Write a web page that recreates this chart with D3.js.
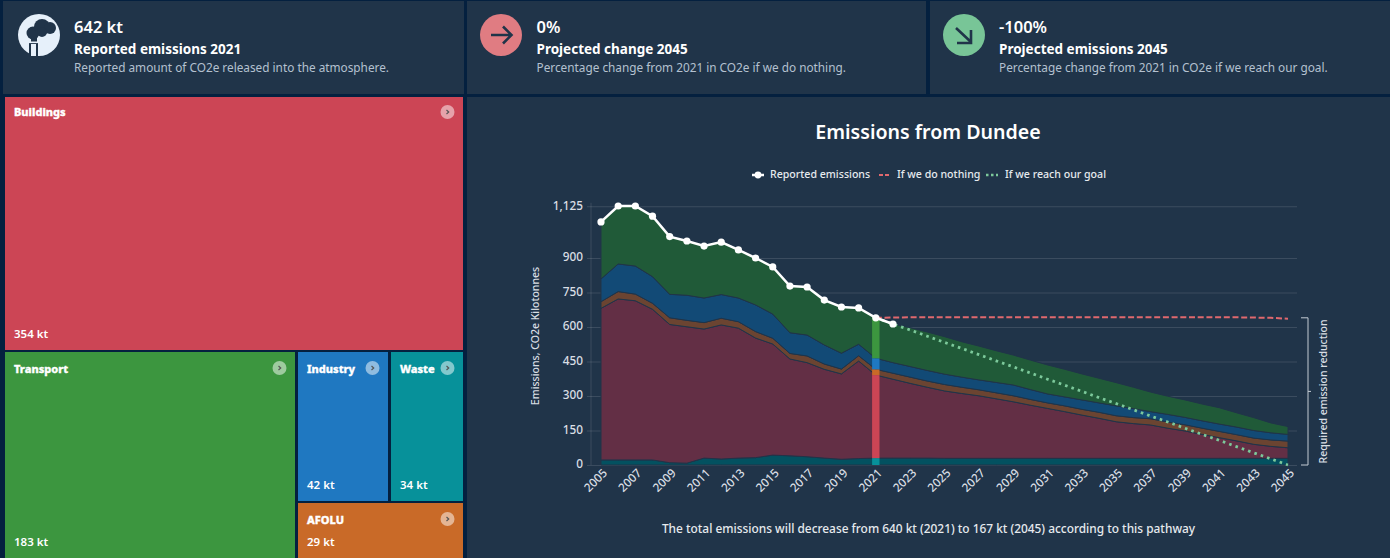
<!DOCTYPE html>
<html lang="en">

<head>
    <meta charset="UTF-8">
    <title>Emissions from Dundee</title>
    <style>
        html, body { margin: 0; padding: 0; background: #04203f; overflow: hidden; }
        svg { display: block; }
        text { font-family: "Noto Sans", sans-serif; fill: #fff; }
        .axis text { font-size: 11.8px; font-weight: 500; fill: #d9dee4; }
        .axis .domain, .axis line { stroke: #fff; stroke-opacity: .12; }
    </style>
</head>

<body>
    <div id="wrapper"></div>

    <script src="https://d3js.org/d3.v7.min.js"></script>
    <script>
        // data
        const years = d3.range(2005, 2046);
        const reportedYears = d3.range(2005, 2023);
        const goalYears = d3.range(2021, 2046);

        const sectorKeys = ["Waste", "Buildings", "AFOLU", "Industry", "Transport"];
        const waste = [22, 22, 22, 22, 10, 8, 30, 26, 30, 32, 43, 40, 36, 30, 25, 28, 30,
            30, 30, 30, 29, 29, 29, 29, 29, 29, 29, 29, 29, 29, 29, 29, 29, 29, 29, 29, 29, 29, 29, 29, 29];
        const buildings = [659, 700, 692, 655, 601, 593, 561, 583, 565, 520, 483, 421, 409, 386, 371, 424, 361,
            343, 325, 308, 293, 282, 272, 259, 246, 231, 217, 203, 188, 174, 159, 151, 145, 131, 119, 104, 90, 76, 61, 52, 46];
        const afolu = [29, 32, 29, 26, 29, 28, 28, 29, 28, 28, 25, 24, 29, 23, 21, 23, 25,
            26, 27, 27, 28, 27, 26, 26, 26, 25, 24, 25, 25, 26, 26, 26, 27, 27, 27, 27, 27, 27, 27, 28, 29];
        const industry = [99, 120, 122, 116, 102, 109, 107, 103, 103, 116, 105, 90, 91, 83, 69, 50, 48,
            46, 46, 46, 45, 44, 43, 45, 47, 43, 39, 39, 41, 41, 43, 39, 31, 33, 32, 32, 32, 33, 33, 31, 29];
        const transport = [248, 252, 261, 263, 251, 236, 226, 228, 209, 204, 205, 203, 209, 195, 201, 158, 176,
            168, 169, 167, 163, 154, 147, 138, 130, 128, 126, 120, 113, 107, 101, 93, 85, 79, 76, 73, 71, 62, 56, 43, 34];
        const sectorSeries = [waste, buildings, afolu, industry, transport];

        const reported = [1057, 1126, 1126, 1082, 993, 974, 952, 969, 935, 900, 861, 778, 774, 717, 687, 683, 640, 613];
        const doNothing = [640, 641, 642, 642, 642, 642, 642, 642, 642, 642, 642, 642, 642, 642, 642, 642, 642, 642, 642, 642, 642, 642, 641, 640, 636];
        const reachGoal = [640, 613, 587, 560, 533, 507, 480, 453, 427, 400, 373, 347, 320, 293, 267, 240, 213, 187, 160, 133, 107, 80, 53, 27, 0];

        const yTicks = [0, 150, 300, 450, 600, 750, 900, 1125];
        const xTicks = d3.range(2005, 2046, 2);

        const treeNames = ["Buildings", "Transport", "Industry", "Waste", "AFOLU"];
        const treeValues = [354, 183, 42, 34, 29];

        const cardValues = ["642 kt", "0%", "-100%"];
        const cardTitles = ["Reported emissions 2021", "Projected change 2045", "Projected emissions 2045"];
        const cardTexts = [
            "Reported amount of CO2e released into the atmosphere.",
            "Percentage change from 2021 in CO2e if we do nothing.",
            "Percentage change from 2021 in CO2e if we reach our goal."
        ];

        const panel = "#203449";
        const treeColor = d3.scaleOrdinal()
            .domain(treeNames)
            .range(["#cc4555", "#3c963f", "#1f78c1", "#07919a", "#c96a28"]);
        const areaColor = d3.scaleOrdinal()
            .domain(sectorKeys)
            .range(["#035160", "#632f45", "#6b4431", "#124a76", "#205a38"]);

        const svg = d3.select("#wrapper").append("svg")
            .attr("width", 1390)
            .attr("height", 558);

        // top cards
        const cardX = [3, 467, 930];
        const cardW = [461, 459, 460];
        const card = svg.selectAll(".card").data(cardValues).join("g")
            .attr("class", "card")
            .attr("transform", (d, i) => `translate(${cardX[i]},1)`);
        card.append("rect")
            .attr("width", (d, i) => cardW[i])
            .attr("height", 93)
            .attr("fill", panel);
        const textX = [71, 69.5, 69];
        card.append("text")
            .attr("x", (d, i) => textX[i]).attr("y", 32)
            .style("font-size", "16.5px").style("font-weight", 600)
            .text(d => d);
        card.append("text")
            .attr("x", (d, i) => textX[i]).attr("y", 53)
            .style("font-size", "13.5px").style("font-weight", 700)
            .text((d, i) => cardTitles[i]);
        card.append("text")
            .attr("x", (d, i) => textX[i]).attr("y", 71)
            .style("font-size", "11.8px").style("fill", "#b4c1d0")
            .text((d, i) => cardTexts[i]);

        // card icons
        svg.append("circle").attr("cx", 39).attr("cy", 35).attr("r", 21).attr("fill", "#e6f0fa");
        const cloud = svg.append("g").attr("fill", panel);
        cloud.append("circle").attr("cx", 33).attr("cy", 33).attr("r", 6.5);
        cloud.append("circle").attr("cx", 42).attr("cy", 27).attr("r", 8);
        cloud.append("circle").attr("cx", 50).attr("cy", 28).attr("r", 6);
        cloud.append("circle").attr("cx", 42).attr("cy", 32).attr("r", 5);
        cloud.append("rect").attr("x", 31).attr("y", 35).attr("width", 6).attr("height", 7);
        cloud.append("rect").attr("x", 29).attr("y", 42).attr("width", 9).attr("height", 14);
        svg.append("rect").attr("x", 29).attr("y", 41.5).attr("width", 9).attr("height", 1.6).attr("fill", "#e6f0fa");
        svg.append("rect").attr("x", 31).attr("y", 44).attr("width", 5).attr("height", 12).attr("fill", "#e6f0fa");

        svg.append("circle").attr("cx", 501).attr("cy", 35).attr("r", 21).attr("fill", "#e07c82");
        svg.append("path")
            .attr("d", "M491 35 H511 M503 26.5 L511.5 35 L503 43.5")
            .attr("fill", "none").attr("stroke", panel).attr("stroke-width", 2.6);
        svg.append("circle").attr("cx", 964).attr("cy", 35).attr("r", 21).attr("fill", "#78c597");
        svg.append("path")
            .attr("d", "M956 28 L971 42 M971 30 V43 H957")
            .attr("fill", "none").attr("stroke", panel).attr("stroke-width", 2.6);

        // treemap
        const root = d3.hierarchy({ children: treeNames.map((n, i) => ({ name: n, value: treeValues[i] })) })
            .sum(d => d.value);
        d3.treemap().tile(d3.treemapSquarify.ratio(1)).size([458, 461]).paddingInner(3).round(true)(root);

        const tile = svg.append("g").attr("transform", "translate(5,96)")
            .selectAll("g").data(root.leaves()).join("g")
            .attr("transform", d => `translate(${d.x0},${d.y0})`);
        tile.append("rect")
            .attr("y", d => d.y0 === 0 ? 1 : 0)
            .attr("width", d => d.x1 - d.x0)
            .attr("height", d => d.y1 - d.y0 + 1 - (d.y0 === 0 ? 1 : 0))
            .attr("fill", d => treeColor(d.data.name));
        tile.append("text")
            .attr("x", 9).attr("y", d => d.y0 === 0 ? 20 : 21)
            .style("font-size", "11px").style("font-weight", 800)
            .style("stroke", "#fff").style("stroke-width", .35)
            .text(d => d.data.name);
        tile.append("text")
            .attr("x", 9)
            .attr("y", d => d.y1 - d.y0 - 11)
            .style("font-size", "11.5px").style("font-weight", 600)
            .text(d => d.data.value + " kt");
        tile.append("circle")
            .attr("cx", d => d.x1 - d.x0 - 15.5).attr("cy", d => d.y0 === 0 ? 16 : 16)
            .attr("r", 7)
            .attr("fill", "#fff").attr("fill-opacity", .5);
        tile.append("path")
            .attr("d", d => {
                const cx = d.x1 - d.x0 - 15.5;
                return `M${cx - 1} 14 L${cx + 1.2} 16 L${cx - 1} 18`;
            })
            .attr("fill", "none").attr("stroke", "#555").attr("stroke-width", 1.2);

        // chart panel
        svg.append("rect").attr("x", 467).attr("y", 97).attr("width", 923).attr("height", 461).attr("fill", panel);

        const xScale = d3.scaleLinear().domain([2005, 2045]).range([601, 1288]);
        const yScale = d3.scaleLinear().domain([0, 1125]).range([465, 206.25]);

        svg.append("text")
            .attr("x", 928).attr("y", 139).attr("text-anchor", "middle")
            .style("font-size", "19.6px").style("font-weight", 600)
            .text("Emissions from Dundee");

        // y axis with grid
        const yAxis = d3.axisLeft(yScale)
            .tickValues(yTicks)
            .tickFormat(d3.format(","))
            .tickSize(-706)
            .tickPadding(8);
        const yAxisG = svg.append("g").attr("class", "axis")
            .attr("transform", "translate(591,0)")
            .call(yAxis);
        yAxisG.select(".domain").attr("d", `M0,${yScale(1140)}V${yScale(0)}`);
        yAxisG.selectAll(".tick line").attr("x1", -4);
        yAxisG.selectAll(".tick text").attr("dy", "0.25em");

        // x axis
        const xAxis = d3.axisBottom(xScale)
            .tickValues(xTicks)
            .tickFormat(d3.format("d"))
            .tickSize(0)
            .tickPadding(6);
        const xAxisG = svg.append("g").attr("class", "axis")
            .attr("transform", `translate(0,${yScale(0)})`)
            .call(xAxis);
        xAxisG.select(".domain").remove();
        xAxisG.selectAll("text")
            .attr("text-anchor", "end")
            .attr("dy", "0.6em")
            .attr("transform", "translate(-2,1.5) rotate(-45) translate(1,-2)");

        svg.append("text")
            .attr("transform", "translate(539,336) rotate(-90)")
            .attr("text-anchor", "middle")
            .style("font-size", "10.5px").style("font-weight", 500).style("fill", "#d9dee4")
            .text("Emissions, CO2e Kilotonnes");

        // stacked areas
        const table = years.map((y, i) => {
            const row = { year: y };
            sectorKeys.forEach((k, j) => { row[k] = sectorSeries[j][i]; });
            return row;
        });
        const stacked = d3.stack().keys(sectorKeys)(table);
        const area = d3.area()
            .x(d => xScale(d.data.year))
            .y0(d => yScale(d[0]))
            .y1(d => yScale(d[1]));

        svg.append("g").selectAll("path").data(stacked).join("path")
            .attr("d", area)
            .attr("fill", d => areaColor(d.key))
            .attr("stroke", panel)
            .attr("stroke-width", 1);

        // 2021 highlight
        const hlIndex = years.indexOf(2021);
        svg.append("g").selectAll("rect").data(stacked).join("rect")
            .attr("x", xScale(2021) - 3.7)
            .attr("width", 7.4)
            .attr("y", d => yScale(d[hlIndex][1]))
            .attr("height", d => yScale(d[hlIndex][0]) - yScale(d[hlIndex][1]))
            .attr("fill", d => treeColor(d.key));

        // lines
        const lineOf = (xs) => d3.line().x((d, i) => xScale(xs[i])).y(d => yScale(d));

        svg.append("path").attr("d", lineOf(goalYears)(doNothing))
            .attr("fill", "none").attr("stroke", "#e0686e")
            .attr("stroke-width", 2).style("stroke-dasharray", "6,2.7");
        svg.append("path").attr("d", lineOf(goalYears)(reachGoal))
            .attr("fill", "none").attr("stroke", "#7cc99b")
            .attr("stroke-width", 2.8).style("stroke-dasharray", "2.6,4.1");
        svg.append("path").attr("d", lineOf(reportedYears)(reported))
            .attr("fill", "none").attr("stroke", "#fff").attr("stroke-width", 2.5);
        svg.append("g").selectAll("circle").data(reported).join("circle")
            .attr("cx", (d, i) => xScale(reportedYears[i]))
            .attr("cy", d => yScale(d))
            .attr("r", 3.6)
            .attr("fill", "#fff");

        // required reduction bracket
        const bTop = yScale(doNothing[0]);
        const bBot = yScale(reachGoal[reachGoal.length - 1]);
        const bMid = (bTop + bBot) / 2;
        svg.append("path")
            .attr("d", `M1301,${bTop}H1308V${bBot}H1301M1308,${bMid}H1311`)
            .attr("fill", "none").attr("stroke", "#c3cbd4").attr("stroke-width", 1);
        svg.append("text")
            .attr("transform", `translate(1327,${bMid}) rotate(-90)`)
            .attr("text-anchor", "middle")
            .style("font-size", "10.5px").style("font-weight", 500).style("fill", "#d9dee4")
            .text("Required emission reduction");

        // legend
        const legend = svg.append("g");
        legend.append("line").attr("x1", 752).attr("x2", 764).attr("y1", 175).attr("y2", 175)
            .attr("stroke", "#fff").attr("stroke-width", 2.5);
        legend.append("circle").attr("cx", 758).attr("cy", 175).attr("r", 3.4).attr("fill", "#fff");
        legend.append("line").attr("x1", 879).attr("x2", 891).attr("y1", 175).attr("y2", 175)
            .attr("stroke", "#e0686e").attr("stroke-width", 2).style("stroke-dasharray", "4,2");
        legend.append("line").attr("x1", 986).attr("x2", 998).attr("y1", 175).attr("y2", 175)
            .attr("stroke", "#7cc99b").attr("stroke-width", 2.4).style("stroke-dasharray", "2.5,2.5");
        const legendX = [770, 897, 1005];
        const legendLabels = ["Reported emissions", "If we do nothing", "If we reach our goal"];
        legend.selectAll("text").data(legendLabels).join("text")
            .attr("x", (d, i) => legendX[i]).attr("y", 178)
            .style("font-size", "10.6px").style("font-weight", 500).style("fill", "#e6eaee")
            .text(d => d);

        svg.append("text")
            .attr("x", 928.5).attr("y", 533).attr("text-anchor", "middle")
            .style("font-size", "11.9px").style("font-weight", 500).style("fill", "#e6eaee")
            .text("The total emissions will decrease from 640 kt (2021) to 167 kt (2045) according to this pathway");
    </script>
</body>

</html>
